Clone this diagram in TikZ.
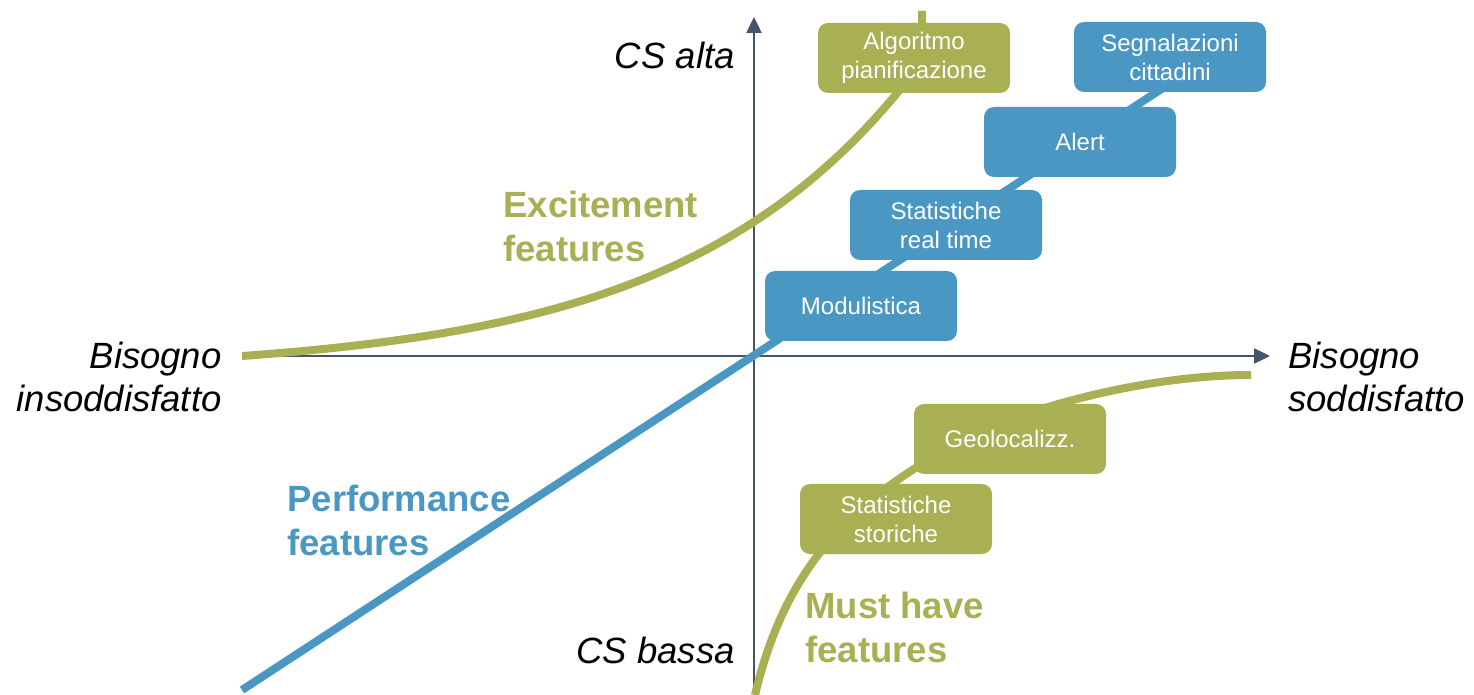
\documentclass[tikz,border=0pt]{standalone}
\usepackage{fontspec}
\setmainfont{Liberation Sans}
\usetikzlibrary{arrows.meta}
\definecolor{kgreen}{HTML}{A9AF53}
\definecolor{kblue}{HTML}{4A97C4}
\definecolor{kaxis}{HTML}{44546A}
\tikzset{
  axisline/.style={draw=kaxis, line width=1.2pt, -{Triangle[length=8pt,width=7.5pt]}},
  greencurve/.style={draw=kgreen, line width=4pt},
  bluecurve/.style={draw=kblue, line width=4pt},
  boxbase/.style={rounded corners=5pt, minimum width=96pt, minimum height=35pt, inner sep=2pt,
    text=white, align=center, font=\fontsize{12}{14.5}\selectfont},
  gbox/.style={boxbase, fill=kgreen},
  bbox/.style={boxbase, fill=kblue},
  axlabel/.style={inner sep=0pt, font=\fontsize{18.25}{21.5}\selectfont\itshape},
  biglabel/.style={inner sep=0pt, align=left, font=\fontsize{18.25}{22}\selectfont\bfseries},
}
\begin{document}
\begin{tikzpicture}[x=0.5pt,y=-0.5pt]
\useasboundingbox (0,0) rectangle (1474,695);
% axes
\coordinate (xs) at (242,356);
\coordinate (xe) at (1270,356);
\coordinate (ys) at (754,690);
\coordinate (ye) at (754,17);
\draw[axisline] (xs) -- (xe);
\draw[axisline] (ys) -- (ye);
% performance line
\coordinate (ps) at (242,690);
\coordinate (pe) at (1163,88);
\draw[bluecurve] (ps) -- (pe);
% excitement curve
\draw[greencurve] plot[domain=242:900, samples=80] (\x, {356-16.6*(exp((\x-242)/232)-1)})
  .. controls (915,70) and (922,45) .. (922,23) -- (922,11);
% must have curve
\draw[greencurve] plot[domain=695:430, samples=80] ({755+28.5*(exp((695-\x)/120)-1)}, \x)
  .. controls (1040,405) and (1150,375) .. (1251,375);
% boxes
\node[bbox] (mod) at (861,306) {Modulistica};
\node[bbox] (srt) at (946,225) {Statistiche\\real time};
\node[bbox] (alr) at (1080,142) {Alert};
\node[bbox] (seg) at (1170,57) {Segnalazioni\\cittadini};
\node[gbox] (alg) at (914,58) {Algoritmo\\pianificazione};
\node[gbox] (geo) at (1010,439) {Geolocalizz.};
\node[gbox] (sto) at (896,519) {Statistiche\\storiche};
% axis labels
\node[axlabel, anchor=base east] (csa) at (735,69) {CS alta};
\node[axlabel, anchor=base east] (csb) at (735,663) {CS bassa};
\node[axlabel, anchor=base east, align=right] (bl) at (222,412) {Bisogno\\insoddisfatto};
\node[axlabel, anchor=base west, align=left] (br) at (1288,412) {Bisogno\\soddisfatto};
% category labels
\node[biglabel, text=kgreen, anchor=base west] (exc) at (503,262) {Excitement\\features};
\node[biglabel, text=kblue, anchor=base west] (perf) at (287,555) {Performance\\features};
\node[biglabel, text=kgreen, anchor=base west] (must) at (805,662) {Must have\\features};
\end{tikzpicture}
\end{document}
